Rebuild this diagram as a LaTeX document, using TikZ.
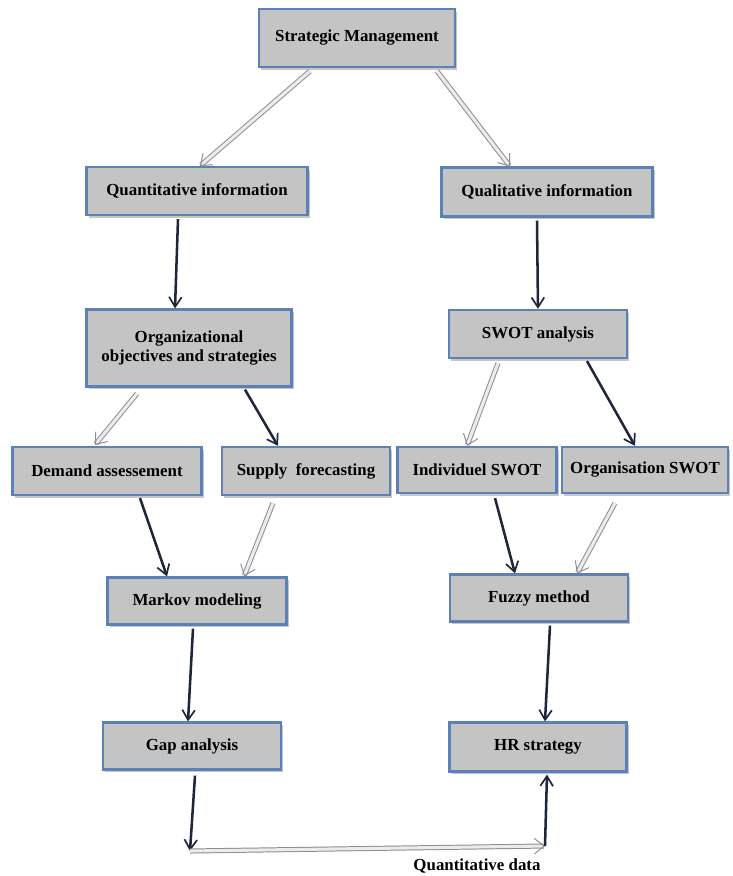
\documentclass[tikz,border=0pt]{standalone}
\usepackage{fontspec}
\setmainfont{Liberation Serif}
\usetikzlibrary{calc,arrows.meta,shadows}

\definecolor{boxgray}{RGB}{196,196,196}
\definecolor{boxedge}{RGB}{93,128,182}
\definecolor{darkline}{RGB}{31,38,58}
\definecolor{paleline}{RGB}{140,140,148}

\begin{document}
\begin{tikzpicture}[x=0.025cm, y=-0.025cm,
  box/.style={draw=boxedge, line width=1.6pt, fill=boxgray, inner sep=2pt,
    font=\fontsize{12}{14}\selectfont\bfseries, align=center,
    drop shadow={opacity=0.45, shadow xshift=1.5pt, shadow yshift=-1.8pt}},
  dark/.style={draw=darkline, line width=1.8pt,
    -{Straight Barb[length=7pt, width=9pt, line width=1.2pt]}},
  pale/.style={draw=paleline, line width=0.7pt, double=gray!15, double distance=2.2pt,
    -{Straight Barb[length=7pt, width=11pt]}}]

\useasboundingbox (0,0) rectangle (732,876);

%─────────────
% Boxes
%─────────────
\node[box, minimum width=4.9cm, minimum height=1.45cm] (sm) at (357,38) {Strategic Management};

\node[box, minimum width=5.525cm, minimum height=1.2cm] (quant) at (197,191) {Quantitative information};
\node[box, minimum width=5.275cm, minimum height=1.225cm] (qual) at (547,192) {Qualitative information};

\node[box, minimum width=5.125cm, minimum height=1.925cm] (org) at (189,348) {Organizational\\objectives and strategies};
\node[box, minimum width=4.45cm, minimum height=1.2cm] (swot) at (538,334) {SWOT analysis};

\node[box, minimum width=4.725cm, minimum height=1.2cm] (demand) at (107,471) {Demand assessement};
\node[box, minimum width=4.2cm, minimum height=1.2cm] (supply) at (306,471) {Supply~ forecasting};
\node[box, minimum width=3.975cm, minimum height=1.15cm] (indiv) at (477,470) {Individuel SWOT};
\node[box, minimum width=4.15cm, minimum height=1.15cm] (orgswot) at (645,470) {Organisation SWOT};

\node[box, minimum width=4.475cm, minimum height=1.175cm] (markov) at (197,601) {Markov modeling};
\node[box, minimum width=4.45cm, minimum height=1.175cm] (fuzzy) at (539,598) {Fuzzy method};

\node[box, minimum width=4.45cm, minimum height=1.175cm] (gap) at (192,746) {Gap analysis};
\node[box, minimum width=4.425cm, minimum height=1.225cm] (hr) at (538,747) {HR strategy};

%─────────────
% Connectors
%─────────────
\draw[pale] ($(sm.south)+(-47,3)$) -- ($(quant.north)+(3,0)$);
\draw[pale] ($(sm.south)+(80,3)$) -- ($(qual.north)+(-37,0)$);

\draw[dark] ($(quant.south)+(-19,3)$) -- ($(org.north)+(-14,0)$);
\draw[dark] ($(qual.south)+(-10,3)$) -- (swot.north);

\draw[pale] ($(org.south)+(-52,6)$) -- ($(demand.north)+(-12,-1)$);
\draw[dark] ($(org.south)+(56,2)$) -- ($(supply.north)+(-28,0)$);
\draw[pale] ($(swot.south)+(-40,4)$) -- ($(indiv.north)+(-10,0)$);
\draw[dark] ($(swot.south)+(49,2)$) -- ($(orgswot.north)+(-10,0)$);

\draw[dark] ($(demand.south)+(33,2)$) -- ($(markov.north)+(-30,0)$);
\draw[pale] ($(supply.south)+(-33,7)$) -- ($(markov.north)+(47,0)$);
\draw[dark] ($(indiv.south)+(18,4)$) -- ($(fuzzy.north)+(-24,0)$);
\draw[pale] ($(orgswot.south)+(-30,9)$) -- ($(fuzzy.north)+(38,0)$);

\draw[dark] ($(markov.south)+(-4,3)$) -- ($(gap.north)+(-4,0)$);
\draw[dark] ($(fuzzy.south)+(11,3)$) -- ($(hr.north)+(7,0)$);

% Bottom link: gap analysis round to HR strategy
\coordinate (bl) at (190,851);
\coordinate (br) at (545,846);
\draw[dark] ($(gap.south)+(3,5)$) -- (bl);
\draw[pale] (bl) -- (br);
\draw[dark] (br) -- ($(hr.south)+(9,2)$);

%─────────────
% Labels
%─────────────
\node[font=\fontsize{12}{14}\selectfont\bfseries] (qdata) at (477,866) {Quantitative data};
\end{tikzpicture}
\end{document}
